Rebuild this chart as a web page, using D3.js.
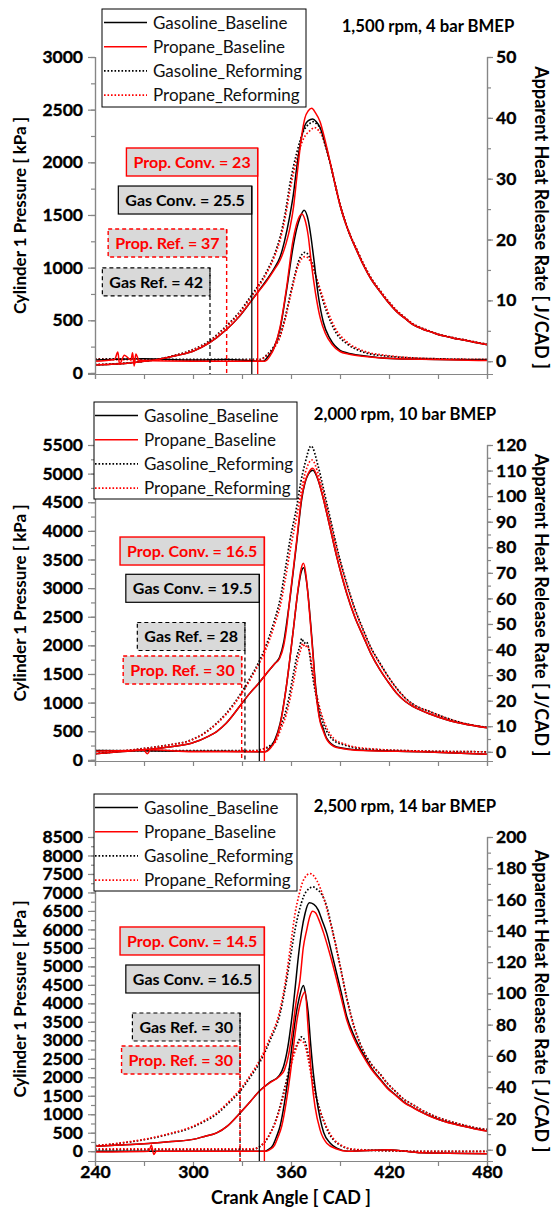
<!DOCTYPE html>
<html>
<head>
<meta charset="utf-8">
<script src="https://cdn.jsdelivr.net/npm/d3@7"></script>
<style>
  body { margin: 0; background: #fff; }
  svg { display: block; }
  text { font-family: Lato, "Open Sans", sans-serif; }
</style>
</head>
<body>
<div id="chart"></div>
<script>
// ---- data: [crank angle CAD, value] ----
const SERIES_NAMES = ['Gasoline_Baseline', 'Propane_Baseline', 'Gasoline_Reforming', 'Propane_Reforming'];
const PANEL_TITLES = ['1,500 rpm, 4 bar BMEP', '2,000 rpm, 10 bar BMEP', '2,500 rpm, 14 bar BMEP'];
const X_TICKS = [240, 300, 360, 420, 480];

// 1,500 rpm, 4 bar -- cylinder pressure [kPa]
const P1_GAS_BASE = [[240,76],[250,82],[260,92],[270,110],[280,132],[290,165],[300,205],[310,285],[320,405],[328,530],[335,670],[340,775],[345,880],[350,1000],[353.3,1100],[356,1250],[359,1470],[361.5,1700],[363.5,1950],[366.6,2250],[368.5,2350],[370.6,2395],[373.3,2411],[375.5,2385],[377.8,2330],[381,2170],[383.9,2000],[387,1790],[390,1595],[393,1440],[396.1,1310],[400,1170],[404.3,1025],[409,890],[414.5,772],[419,680],[424.7,582],[430,515],[434.9,456],[440,420],[445.1,392],[450,365],[455.3,345],[460,328],[465.5,313],[472,292],[480,268]];
const P1_PROP_BASE = [[240,76],[250,82],[260,92],[270,110],[280,132],[290,165],[300,205],[310,285],[320,405],[328,530],[335,670],[340,770],[345,870],[350,985],[353.3,1070],[357,1230],[359.4,1380],[361.5,1570],[363.5,1849],[366.6,2260],[368.5,2420],[370.6,2490],[372.7,2513],[375,2470],[377.8,2386],[381,2200],[383.9,2006],[387,1790],[390,1595],[393,1440],[396.1,1310],[400,1170],[404.3,1025],[409,890],[414.5,772],[419,680],[424.7,582],[430,515],[434.9,456],[440,420],[445.1,392],[450,365],[455.3,345],[460,328],[465.5,313],[472,292],[480,268]];
const P1_GAS_REF = [[240,80],[250,85],[260,95],[270,112],[280,135],[290,172],[300,222],[310,305],[320,440],[328,570],[335,720],[340,830],[345,960],[350,1130],[353.3,1290],[356.5,1520],[359.4,1800],[361.5,1960],[363.5,2090],[367.5,2290],[371.6,2370],[373.7,2386],[376,2360],[378,2320],[381,2170],[384,1990],[387,1790],[390,1600],[393,1445],[396,1315],[400,1180],[404.3,1035],[409,900],[414.5,780],[419,690],[424.7,590],[430,520],[434.9,462],[440,425],[445.1,396],[450,368],[455.3,348],[460,331],[465.5,316],[472,295],[480,272]];
const P1_PROP_REF = [[240,78],[250,84],[260,94],[270,111],[280,133],[290,170],[300,218],[310,298],[320,430],[328,560],[335,705],[340,815],[345,945],[350,1110],[353.3,1260],[356.5,1480],[359.4,1740],[361.5,1900],[363.5,2030],[367.5,2220],[371.6,2300],[374.5,2330],[377,2300],[379,2250],[381.5,2130],[384,1990],[387,1795],[390,1605],[393,1450],[396,1320],[400,1185],[404.3,1040],[409,905],[414.5,785],[419,695],[424.7,595],[430,525],[434.9,466],[440,428],[445.1,398],[450,370],[455.3,350],[460,333],[465.5,318],[472,297],[480,274]];
// 1,500 rpm, 4 bar -- apparent heat release rate [J/CAD]
const H1_GAS_BASE = [[240,0.2],[270,0.4],[300,0.2],[320,0.3],[343,0],[346,0.8],[349.2,2.0],[353.3,5.3],[357.4,11.9],[361.4,19.0],[363.5,21.8],[365.5,23.6],[368,24.8],[370.6,23.1],[372.2,20.5],[373.7,17.4],[376.7,10.8],[379.8,6.4],[383.9,3.7],[390,1.8],[394.1,1.4],[404.3,0.9],[424.7,0.4],[450,0.3],[480,0.2]];
const H1_PROP_BASE = [[240,0],[252,0.3],[254,1.5],[255,-0.5],[258,1.0],[262,0.2],[263,1.4],[264,-0.8],[265,1.2],[267,0.1],[300,0],[344,0],[347,0.8],[350,2.4],[353.3,5.6],[357.4,12.3],[361,19.5],[363.5,22.6],[366.6,24.2],[368.5,23.3],[370.6,20.5],[372.5,16.0],[375,11.2],[378,7.0],[381,4.6],[385,2.8],[390,1.6],[395,1.2],[404,0.8],[425,0.4],[450,0.3],[480,0.1]];
const H1_GAS_REF = [[240,0.4],[300,0.3],[320,0.3],[341,0.3],[345,1.0],[349,2.2],[353.3,4.2],[356.5,7.3],[359.4,10.8],[362,13.8],[364.5,16.3],[368.6,17.9],[372.7,16.3],[376.7,12.5],[381.9,8.1],[388,4.5],[394.1,2.9],[404.3,1.5],[420,0.8],[450,0.4],[480,0.3]];
const H1_PROP_REF = [[240,0.3],[300,0.2],[341,0.2],[345,0.9],[349,2.0],[353.3,4.0],[356.5,7.0],[359.4,10.4],[362,13.4],[364.5,15.8],[368.6,17.2],[372.7,16.0],[376.7,12.8],[381.9,8.6],[388,5.0],[394.1,3.2],[404.3,1.7],[420,0.9],[450,0.4],[480,0.3]];

// 2,000 rpm, 10 bar -- cylinder pressure [kPa]
const P2_GAS_BASE = [[240,105],[255,140],[270,175],[285,225],[299,291],[310,420],[314.5,495],[320,630],[325,800],[330,990],[335,1170],[340,1330],[345,1510],[350,1680],[353,1790],[355.5,2050],[357.4,2400],[359.4,2820],[361.5,3320],[363.5,3800],[366.6,4560],[368.5,4830],[370.6,4990],[373.3,5060],[376.7,4880],[379,4650],[381.9,4307],[385,3920],[388,3550],[391,3220],[394.1,2911],[399,2500],[404.3,2153],[409,1850],[414.5,1571],[419,1380],[424.7,1164],[430,1020],[434.9,930],[445.1,800],[455.3,700],[465.5,630],[480,560]];
const P2_PROP_BASE = [[240,105],[255,140],[270,175],[285,225],[299,291],[310,420],[314.5,495],[320,630],[325,800],[330,990],[335,1170],[340,1330],[345,1510],[350,1680],[353,1770],[355.5,1990],[357.4,2330],[359.4,2851],[361.5,3350],[363.5,3841],[366.6,4597],[368.5,4850],[370.6,5006],[373.3,5093],[376.7,4889],[379,4650],[381.9,4307],[385,3920],[388,3550],[391,3220],[394.1,2911],[399,2500],[404.3,2153],[409,1850],[414.5,1571],[419,1380],[424.7,1164],[430,1020],[434.9,930],[445.1,800],[455.3,700],[465.5,630],[480,560]];
const P2_GAS_REF = [[240,110],[255,150],[270,200],[285,260],[299,349],[307,470],[314.5,641],[320,800],[325,980],[330,1190],[335,1430],[341,1750],[343.1,1880],[347,2180],[350,2450],[353.3,2800],[356.5,3330],[359.4,3841],[363.5,4423],[366,4850],[368.6,5180],[372.3,5483],[376.7,5121],[379,4850],[381.9,4482],[385,4100],[388,3724],[391,3390],[394.1,3085],[399,2650],[404.3,2270],[409,1960],[414.5,1688],[419,1480],[424.7,1252],[430,1080],[434.9,970],[445.1,843],[455.3,730],[465.5,641],[480,570]];
const P2_PROP_REF = [[240,108],[255,148],[270,197],[285,256],[299,345],[307,462],[314.5,630],[320,785],[325,960],[330,1165],[335,1400],[341,1710],[343.1,1830],[347,2110],[350,2370],[353.3,2680],[356.5,3150],[359.4,3650],[363.5,4250],[366,4650],[368.6,5000],[372.9,5238],[376.7,4990],[379,4760],[381.9,4420],[385,4050],[388,3690],[391,3360],[394.1,3060],[399,2630],[404.3,2250],[409,1945],[414.5,1675],[419,1470],[424.7,1245],[430,1075],[434.9,965],[445.1,840],[455.3,728],[465.5,640],[480,568]];
// 2,000 rpm, 10 bar -- apparent heat release rate [J/CAD]
const H2_GAS_BASE = [[240,0.5],[280,0.3],[320,0.2],[344,0],[347,1.5],[350,4.5],[353.3,11],[357.4,26.7],[361.4,47.6],[364.5,64.0],[366.2,70.2],[367.8,72.0],[369.2,68],[370.2,63],[372.7,45],[375.3,24.1],[377.8,12.4],[379.5,9.5],[381.9,5.2],[388,1.9],[404,0.6],[440,0],[480,-1]];
const H2_PROP_BASE = [[240,0.2],[270,0.6],[272,-0.8],[274,0.8],[300,0],[320,0],[344.5,0],[347.5,1.5],[350.5,4.5],[353.5,11],[357.4,26.7],[361.4,47.6],[364.5,64.5],[366.2,71.5],[367.6,73.7],[369,70],[370,64],[372.7,44],[375.3,23],[377.8,11.8],[379.5,8.5],[381.9,4.8],[388,1.7],[404,0.5],[440,0],[480,-1]];
const H2_GAS_REF = [[240,0.5],[300,0.5],[338,0.5],[341,0.8],[346,2],[350.3,4.5],[353,9],[356.4,15],[359,22],[361.5,30.6],[363.5,37],[365.5,41.5],[366.6,44.3],[368,42.5],[369.5,43],[371,40],[372.7,32],[375,23],[378.3,14],[381.9,8],[386,4.5],[392,2.8],[404,1.2],[440,0.3],[480,0]];
const H2_PROP_REF = [[240,0.4],[300,0.4],[338.5,0.4],[341.5,0.7],[346.5,1.8],[350.8,4.2],[353.5,8.5],[356.9,14.2],[359.5,21],[362,29],[364,35.5],[366,40],[367.2,42.4],[368.5,41],[370,41.5],[371.5,38.5],[373.2,31.5],[375.5,23],[378.8,14.5],[382.4,8.6],[386.5,5],[392.5,3.1],[404.5,1.4],[440,0.3],[480,0]];

// 2,500 rpm, 14 bar -- cylinder pressure [kPa]
const P3_GAS_BASE = [[240,135],[255,165],[270,200],[285,255],[300,320],[307,400],[314.5,496],[321,680],[328.8,1036],[335,1340],[341,1640],[347,1860],[353,2060],[355.5,2300],[358,2800],[360.5,3600],[362.5,4400],[364.5,5261],[366.5,5950],[368.6,6432],[371.2,6718],[374,6680],[376.7,6521],[379,6250],[381.9,5892],[385,5350],[388,4800],[391,4250],[394.1,3650],[399,3080],[404.3,2620],[409,2270],[414.5,1960],[419,1720],[424.7,1500],[429,1335],[434.9,1180],[440,1058],[445.1,952],[450,866],[455.3,788],[465.5,680],[472,614],[480,548]];
const P3_PROP_BASE = [[240,135],[255,165],[270,200],[285,255],[300,320],[307,400],[314.5,496],[321,680],[328.8,1036],[335,1340],[341,1640],[347,1850],[353,2030],[356,2200],[358.5,2600],[361,3300],[363,4000],[365.5,4633],[367.5,5500],[369.6,5981],[371.5,6350],[373.2,6494],[375,6450],[376.7,6300],[380,5900],[384,5300],[388,4633],[391,4100],[394.1,3553],[399,3000],[404.3,2563],[409,2230],[414.5,1934],[419,1700],[424.7,1484],[429,1320],[434.9,1171],[440,1050],[445.1,944],[450,860],[455.3,782],[465.5,675],[472,610],[480,545]];
const P3_GAS_REF = [[240,145],[255,212],[270,310],[285,455],[299.2,640],[307,805],[314.5,1005],[321,1265],[328.8,1620],[335,2000],[341,2410],[347,2980],[353.3,3720],[357.4,4650],[360,5350],[362.5,6000],[365,6500],[367.6,6880],[371,7100],[373.5,7150],[376,7080],[378.8,6950],[382,6600],[385,6050],[388,5450],[391,4820],[394,4180],[399,3330],[404.3,2720],[409,2370],[414.5,2090],[419,1840],[424.7,1590],[429,1410],[434.9,1255],[440,1115],[445.1,1003],[450,912],[455.3,832],[465.5,712],[472,642],[480,588]];
const P3_PROP_REF = [[240,150],[255,220],[270,320],[285,470],[299.2,660],[307,830],[314.5,1036],[321,1300],[328.8,1665],[335,2050],[341,2474],[347,3050],[353.3,3823],[357.4,4813],[360,5650],[362.5,6432],[365,6950],[367.6,7331],[371.7,7511],[375.7,7331],[379.8,6880],[384,6200],[388,5450],[391,4800],[394,4150],[399,3300],[404.3,2700],[409,2350],[414.5,2080],[419,1830],[424.7,1580],[429,1400],[434.9,1250],[440,1110],[445.1,1000],[450,910],[455.3,830],[465.5,710],[472,640],[480,585]];
// 2,500 rpm, 14 bar -- apparent heat release rate [J/CAD]
const H3_GAS_BASE = [[240,-1],[300,-1],[344,-1],[346,0],[349,3],[351,8],[353.3,15],[356,30],[358.5,48],[361,70],[363,86],[365,97],[367.6,105],[369,99],[370.5,88],[372,68],[373.7,48.8],[375.5,34],[377.8,20],[380,11],[383.9,4.3],[388,1],[395,-1],[420,0],[440,-2],[480,-2.5]];
const H3_PROP_BASE = [[240,-1.5],[273,-1],[274.5,3],[276,-3],[277.5,-1],[300,-1],[345,-1],[347,0],[350,3],[352,8],[354.3,15],[357,30],[359.5,48],[362,70],[364,85],[366,95],[368.6,100.8],[370.6,76],[372.7,45],[374.7,27.6],[377.8,12.7],[381.9,4.2],[388,0.5],[395,-1],[420,0],[440,-2],[480,-2.5]];
const H3_GAS_REF = [[240,0],[300,0],[336,0],[340,1.5],[344,5],[348,12],[352,23],[356,39],[360,56],[363.5,67],[366.6,72.2],[369,68],[371,58],[373.7,42.5],[376.5,30],[379.8,19],[383,11],[385.9,6.4],[390,3],[394,1],[400,0],[440,-1],[480,-1]];
const H3_PROP_REF = [[240,0.5],[300,0.5],[335,0.5],[339,1],[343,4],[347,10],[351,19],[355,33],[359,50],[362.5,63],[366,70],[368.5,67],[370.5,58],[373,44],[376,31],[379.5,20],[383,12],[386,7],[390,3.4],[394,1.2],[400,0.2],[440,-1],[480,-1]];

// annotation boxes: label and the crank angle of the line under it
const NOTE_LABELS_1500 = ['Prop. Conv. = 23', 'Gas Conv. = 25.5', 'Prop. Ref. = 37', 'Gas Ref. = 42'];
const NOTE_CAD_1500 = [339.6, 336, 320.6, 310.4];
const NOTE_LABELS_2000 = ['Prop. Conv. = 16.5', 'Gas Conv. = 19.5', 'Gas Ref. = 28', 'Prop. Ref. = 30'];
const NOTE_CAD_2000 = [343.7, 340.6, 331.8, 329.8];
const NOTE_LABELS_2500 = ['Prop. Conv. = 14.5', 'Gas Conv. = 16.5', 'Gas Ref. = 30', 'Prop. Ref. = 30'];
const NOTE_CAD_2500 = [343.7, 340.6, 328.8, 328.8];

// ---- layout ----
const W = 558, H = 1209;
const RED = '#ff0000', AXIS = '#868686';
const FONT = 'Lato, "Open Sans", sans-serif';

const panels = [
  { title: PANEL_TITLES[0], titleX: 428, titleY: 32, top: 57, bottom: 374,
    pDomain: [-10, 3000], pMax: 3000, hDomain: [-2.1, 50], hMax: 50, hStep: 10,
    pressure: [P1_GAS_BASE, P1_PROP_BASE, P1_GAS_REF, P1_PROP_REF],
    hrr: [H1_GAS_BASE, H1_PROP_BASE, H1_GAS_REF, H1_PROP_REF],
    notes: NOTE_LABELS_1500, noteCad: NOTE_CAD_1500, noteAt: [2003, 1642, 1234, 864],
    legend: { x: 102, y: 9, w: 204, h: 98, pad: 2 } },
  { title: PANEL_TITLES[1], titleX: 405, titleY: 420, top: 445, bottom: 761,
    pDomain: [-20, 5500], pMax: 5500, hDomain: [-3.6, 120], hMax: 120, hStep: 10,
    pressure: [P2_GAS_BASE, P2_PROP_BASE, P2_GAS_REF, P2_PROP_REF],
    hrr: [H2_GAS_BASE, H2_PROP_BASE, H2_GAS_REF, H2_PROP_REF],
    notes: NOTE_LABELS_2000, noteCad: NOTE_CAD_2000, noteAt: [3648, 2997, 2155, 1570],
    legend: { x: 94, y: 402, w: 203, h: 97, pad: 1 } },
  { title: PANEL_TITLES[2], titleX: 405, titleY: 812, top: 837, bottom: 1161,
    pDomain: [-265, 8500], pMax: 8500, hDomain: [-7.2, 200], hMax: 200, hStep: 20,
    pressure: [P3_GAS_BASE, P3_PROP_BASE, P3_GAS_REF, P3_PROP_REF],
    hrr: [H3_GAS_BASE, H3_PROP_BASE, H3_GAS_REF, H3_PROP_REF],
    notes: NOTE_LABELS_2500, noteCad: NOTE_CAD_2500, noteAt: [5687, 4659, 3360, 2467],
    legend: { x: 94, y: 794, w: 203, h: 97, pad: 1 }, xLabels: true }
];

// series style by index: gas base, prop base, gas ref, prop ref
const STYLE = [
  { color: '#000', dash: null },
  { color: RED, dash: null },
  { color: '#000', dash: '1.6 1.9' },
  { color: RED, dash: '1.6 1.9' }
];
const DRAW_ORDER = [2, 3, 0, 1];

const svg = d3.select('#chart').append('svg').attr('width', W).attr('height', H)
  .style('font-family', FONT);

const x = d3.scaleLinear().domain([240, 480]).range([95, 487]);

function styleAxis(g) {
  g.select('.domain').attr('stroke', AXIS).attr('stroke-width', 1.2);
  g.selectAll('.tick line').attr('stroke', AXIS).attr('stroke-width', 1.2);
  g.selectAll('.tick text').attr('fill', '#000').attr('font-weight', 700)
    .attr('font-size', 17.5).attr('font-family', FONT)
    .attr('stroke', '#000').attr('stroke-width', 0.35);
}

panels.forEach((p, pi) => {
  const g = svg.append('g');
  const yP = d3.scaleLinear().domain(p.pDomain).range([p.bottom, p.top]);
  const yH = d3.scaleLinear().domain(p.hDomain).range([p.bottom, p.top]);

  const clipId = `clip${pi}`;
  svg.append('clipPath').attr('id', clipId).append('rect')
    .attr('x', x.range()[0]).attr('y', p.top - 2)
    .attr('width', x.range()[1] - x.range()[0]).attr('height', p.bottom - p.top + 2);

  const curves = g.append('g').attr('clip-path', `url(#${clipId})`);
  const lineP = d3.line().x((d) => x(d[0])).y((d) => yP(d[1])).curve(d3.curveMonotoneX);
  const lineH = d3.line().x((d) => x(d[0])).y((d) => yH(d[1])).curve(d3.curveMonotoneX);

  DRAW_ORDER.forEach((si) => {
    [[p.hrr[si], lineH], [p.pressure[si], lineP]].forEach(([data, gen]) => {
      curves.append('path').datum(data)
        .attr('d', gen)
        .attr('fill', 'none')
        .attr('stroke', STYLE[si].color)
        .attr('stroke-width', STYLE[si].dash ? 1.7 : 1.5)
        .attr('stroke-dasharray', STYLE[si].dash);
    });
  });

  // axes
  const leftMinor = d3.range(0, p.pMax + 1, 250);
  const leftMajor = d3.range(0, p.pMax + 1, 500);
  g.append('g').attr('transform', `translate(${x.range()[0]},0)`)
    .call(d3.axisLeft(yP).tickValues(leftMinor).tickSize(4).tickFormat('')).call(styleAxis);
  g.append('g').attr('transform', `translate(${x.range()[0]},0)`)
    .call(d3.axisLeft(yP).tickValues(leftMajor).tickSize(7).tickPadding(5).tickFormat(d3.format('d')))
    .call(styleAxis);

  const rightMinor = d3.range(0, p.hMax + 0.1, p.hStep / 2);
  const rightMajor = d3.range(0, p.hMax + 0.1, p.hStep);
  g.append('g').attr('transform', `translate(${x.range()[1]},0)`)
    .call(d3.axisRight(yH).tickValues(rightMinor).tickSize(4).tickFormat('')).call(styleAxis);
  g.append('g').attr('transform', `translate(${x.range()[1]},0)`)
    .call(d3.axisRight(yH).tickValues(rightMajor).tickSize(6).tickPadding(3).tickFormat(d3.format('d')))
    .call(styleAxis);

  const xAxis = d3.axisBottom(x).tickValues(d3.range(240, 481, 30)).tickSize(5).tickPadding(0)
    .tickFormat((d) => (p.xLabels && X_TICKS.includes(d) ? d : ''));
  g.append('g').attr('transform', `translate(0,${p.bottom})`).call(xAxis).call(styleAxis);

  // ignition annotations
  const notes = g.append('g');
  p.notes.forEach((label, i) => {
    const isProp = label.startsWith('Prop');
    const isRef = label.includes('Ref');
    const color = isProp ? RED : '#000';
    const dash = isRef ? '4 3' : null;
    const lx = x(p.noteCad[i]);
    const cy = yP(p.noteAt[i]);
    const t = notes.append('text').attr('font-size', 16).attr('font-weight', 700)
      .attr('fill', color).attr('text-anchor', 'middle').text(label);
    const tw = t.node().getComputedTextLength();
    const bw = tw + 14, bh = 28;
    notes.insert('rect', 'text')
      .attr('x', lx - bw).attr('y', cy - bh / 2).attr('width', bw).attr('height', bh)
      .attr('fill', '#d9d9d9').attr('stroke', color).attr('stroke-width', isProp ? 1.4 : 1.2)
      .attr('stroke-dasharray', dash);
    notes.append('line')
      .attr('x1', lx).attr('x2', lx).attr('y1', cy - bh / 2).attr('y2', p.bottom)
      .attr('stroke', color).attr('stroke-width', isProp ? 1.4 : 1.2)
      .attr('stroke-dasharray', dash);
    t.attr('x', lx - bw / 2).attr('y', cy + 6).raise();
  });

  // axis titles
  const mid = (p.top + p.bottom) / 2;
  g.append('text').attr('transform', `translate(25.5,${mid}) rotate(-90)`)
    .attr('text-anchor', 'middle').attr('font-size', 17).attr('font-weight', 700)
    .text('Cylinder 1 Pressure [ kPa ]');
  g.append('text').attr('transform', `translate(535,${mid + 2}) rotate(90)`)
    .attr('text-anchor', 'middle').attr('font-size', 18).attr('font-weight', 700)
    .text('Apparent Heat Release Rate [ J/CAD ]');

  // panel title
  g.append('text').attr('x', p.titleX).attr('y', p.titleY).attr('text-anchor', 'middle')
    .attr('font-size', 16.7).attr('font-weight', 700).text(p.title);

  // legend
  const L = p.legend;
  const lg = g.append('g').attr('transform', `translate(${L.x},${L.y})`);
  lg.append('rect').attr('width', L.w).attr('height', L.h)
    .attr('fill', '#fff').attr('stroke', '#000').attr('stroke-width', 1);
  SERIES_NAMES.forEach((name, i) => {
    const ry = 13.5 + i * 24.2;
    lg.append('line').attr('x1', L.pad).attr('x2', L.pad + 43).attr('y1', ry).attr('y2', ry)
      .attr('stroke', STYLE[i].color).attr('stroke-width', STYLE[i].dash ? 1.7 : 1.5)
      .attr('stroke-dasharray', STYLE[i].dash);
    lg.append('text').attr('x', L.pad + 49).attr('y', ry + 6).attr('font-size', 17)
      .attr('fill', '#111').text(name);
  });
});

svg.append('text').attr('x', 291).attr('y', 1204).attr('text-anchor', 'middle')
  .attr('font-size', 18).attr('font-weight', 700).text('Crank Angle [ CAD ]');
</script>
</body>
</html>
